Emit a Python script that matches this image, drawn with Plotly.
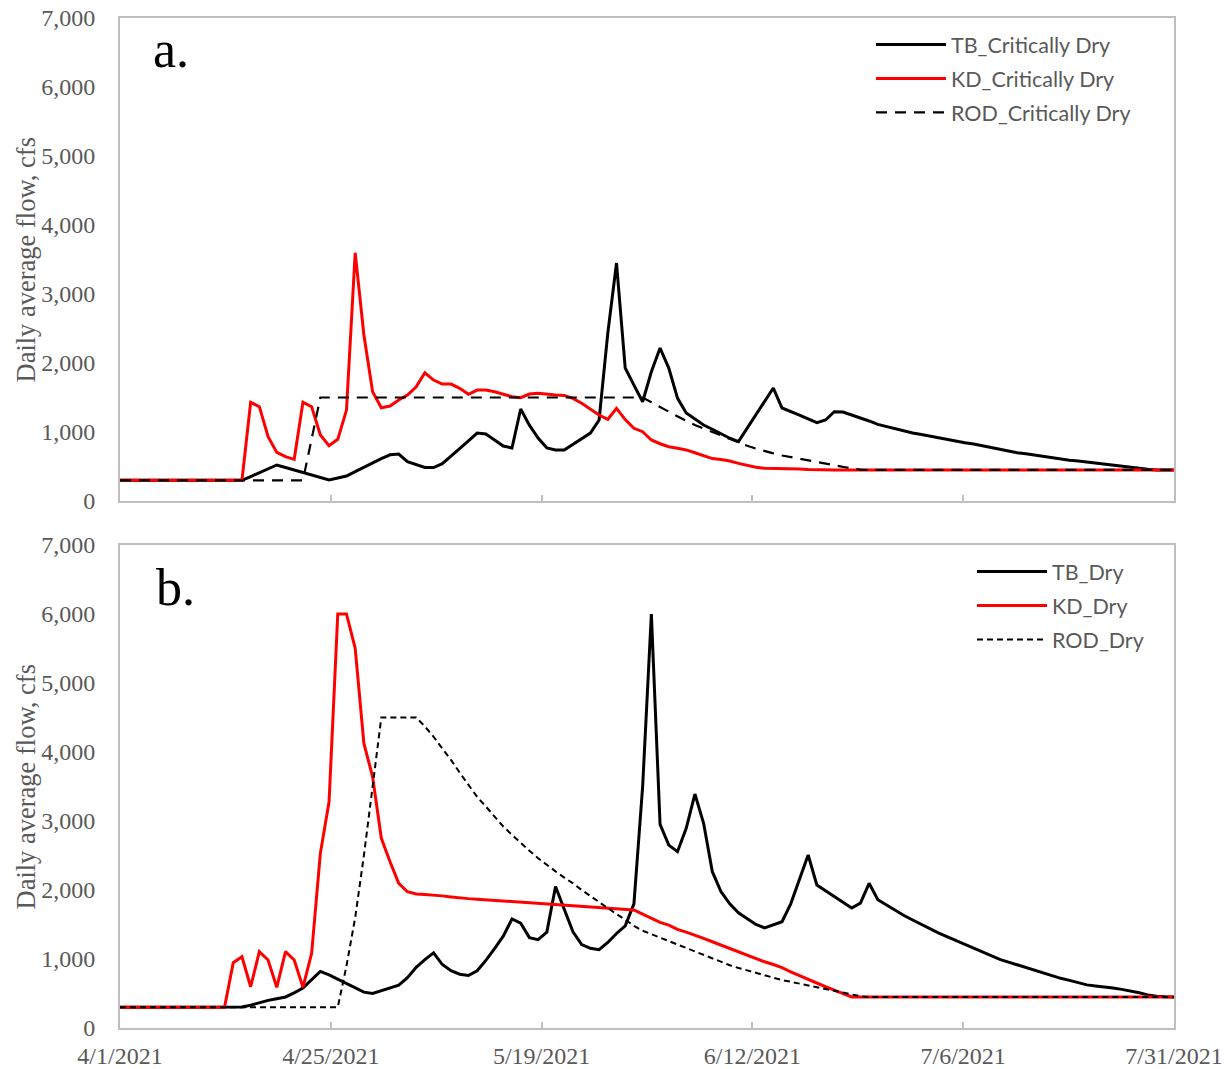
import plotly.graph_objects as go
import numpy as np

# ---------------- data (daily, 4/1/2021 .. 7/31/2021) ----------------
day_index = list(range(122))
tick_labels = ["4/1/2021", "4/25/2021", "5/19/2021", "6/12/2021", "7/6/2021", "7/31/2021"]

tb_critically_dry = [300] * 14 + [
    300, 355, 410, 466, 522, 485, 448, 410, 375, 340,      # 14-23
    304, 333, 362, 426, 490, 555, 615, 670, 681, 570,      # 24-33
    525, 485, 485, 540, 650, 753, 870, 985, 970, 884,      # 34-43
    797, 768, 1333, 1100, 913, 768, 740, 739, 820, 900,    # 44-53
    985, 1174, 2434, 3449, 1927, 1680, 1439, 1873, 2217, 1927,  # 54-63
    1492, 1275, 1190, 1101, 1040, 970, 910, 860, 1050, 1250,    # 64-73
    1440, 1637, 1348, 1300, 1246, 1190, 1135, 1174, 1294, 1290, # 74-83
    1250, 1210, 1160, 1110, 1080, 1050, 1010, 985, 965, 940,    # 84-93
    910, 890, 865, 845, 826, 800, 775, 750, 720, 700,      # 94-103
    685, 665, 645, 625, 605, 590, 580, 565, 545, 525,      # 104-113
    510, 505, 490, 470, 460, 450, 450, 450]                # 114-121

kd_critically_dry = [300] * 15 + [
    1430, 1367, 932, 705, 642, 604, 1430, 1367, 956, 801,  # 15-24
    894, 1318, 3598, 2405, 1584, 1352, 1376, 1463, 1536, 1656,  # 25-34
    1859, 1753, 1695, 1695, 1633, 1546, 1608, 1608, 1584, 1545,  # 35-44
    1511, 1497, 1550, 1560, 1545, 1536, 1530, 1488, 1416, 1330,  # 45-54
    1246, 1184, 1343, 1180, 1053, 1004, 884, 830, 787, 765,      # 55-64
    740, 700, 660, 615, 600, 580, 545, 515, 490, 475,      # 65-74
    473, 473, 473, 465, 455] + [450] * 42                  # 75-121

rod_critically_dry = [300] * 22 + [900] + [1500] * 38 + [
    1430, 1360, 1290, 1220, 1160, 1100, 1050, 1005, 950, 895,  # 61-70
    845, 800, 760, 720, 690, 660, 635, 610, 590, 570,      # 71-80
    545, 520, 495, 475, 455] + [450] * 36                  # 81-121

tb_dry = [300] * 14 + [
    305, 330, 370, 400, 425, 450, 510, 580, 700, 820,      # 14-23
    770, 710, 650, 590, 520, 500, 540, 580, 620, 730,      # 24-33
    880, 990, 1090, 920, 830, 780, 760, 830, 980, 1150,    # 34-43
    1330, 1580, 1520, 1310, 1280, 1390, 2050, 1720, 1395, 1210,  # 44-53
    1155, 1135, 1240, 1370, 1480, 1800, 3500, 6000, 2950, 2650,  # 54-63
    2555, 2894, 3391, 2966, 2265, 1975, 1800, 1670, 1580, 1500,  # 64-73
    1450, 1490, 1540, 1800, 2150, 2507, 2072, 1990, 1900, 1820,  # 74-83
    1740, 1810, 2097, 1860, 1780, 1700, 1630, 1565, 1500, 1435,  # 84-93
    1375, 1320, 1265, 1210, 1150, 1100, 1050, 995, 955, 915,     # 94-103
    870, 830, 790, 753, 720, 690, 655, 625, 610, 600,      # 104-113
    580, 560, 540, 510, 480, 460, 452, 450]                # 114-121

kd_dry = [300] * 13 + [
    946, 1033, 598, 1106, 985, 590, 1106, 985, 590, 1082,  # 13-22
    2531, 3279, 6000, 6000, 5502, 4125, 3641, 2749, 2410, 2097,  # 23-32
    1975, 1942, 1935, 1927, 1915, 1900, 1885, 1875, 1866, 1857,  # 33-42
    1848, 1840, 1830, 1820, 1810, 1800, 1792, 1785, 1775, 1768,  # 43-52
    1760, 1750, 1740, 1734, 1728, 1720, 1710, 1650, 1590, 1530,  # 53-62
    1490, 1430, 1390, 1348, 1300, 1250, 1200, 1150, 1100, 1050,  # 63-72
    1000, 960, 920, 875, 815, 760, 700, 650, 598, 550,     # 73-82
    500] + [450] * 38                                      # 83-121

rod_dry = [300] * 26 + [
    900, 1600, 2500, 3500, 4500, 4500, 4500, 4500, 4500, 4370,  # 26-35
    4221, 4050, 3885, 3700, 3520, 3350, 3210, 3060, 2920, 2800,  # 36-45
    2680, 2570, 2460, 2360, 2270, 2180, 2097, 2000, 1910, 1820,  # 46-55
    1734, 1650, 1570, 1480, 1410, 1360, 1300, 1250, 1200, 1150,  # 56-65
    1100, 1050, 1000, 955, 910, 870, 835, 800, 760, 720,   # 66-75
    695, 670, 645, 620, 595, 570, 545, 520, 495, 460] + [450] * 36  # 76-121

for s in (tb_critically_dry, kd_critically_dry, rod_critically_dry, tb_dry, kd_dry, rod_dry):
    assert len(s) == len(day_index), len(s)

# ---------------- figure ----------------
# The page's default 8px body margin is removed by a post script, so the
# figure fills the 1229x1069 window; positions below are screen pixels.
W, H = 1229, 1069
PL, PR, PT, PB = 120, 1174, 18, 1028        # screen px of the plot block
ML, MT = PL, PT
MR, MB = W - PR, H - PB
GRAY = "#595959"
BORDER = "#BFBFBF"
SERIF = "Liberation Serif, Times New Roman, serif"
SANS = "Lato, Liberation Sans, sans-serif"

plot_w = W - ML - MR
plot_h = H - MT - MB
panel_h = 483 / plot_h


def px_x(sx):
    return (sx - PL) / plot_w


def px_y(sy):
    return 1 - (sy - PT) / plot_h


fig = go.Figure()


def add(y, name, color, width, dash, xa, ya, legend):
    fig.add_trace(go.Scatter(
        x=day_index, y=y, name=name, mode="lines",
        line=dict(color=color, width=width, dash=dash),
        xaxis=xa, yaxis=ya, legend=legend, legendgroup=name,
    ))


add(tb_critically_dry, "TB_Critically Dry", "black", 3, "solid", "x", "y", "legend")
add(kd_critically_dry, "KD_Critically Dry", "#FF0000", 3, "solid", "x", "y", "legend")
add(rod_critically_dry, "ROD_Critically Dry", "black", 2.2, "11px,8px", "x", "y", "legend")
add(tb_dry, "TB_Dry", "black", 3, "solid", "x2", "y2", "legend2")
add(kd_dry, "KD_Dry", "#FF0000", 3, "solid", "x2", "y2", "legend2")
add(rod_dry, "ROD_Dry", "black", 2, "6px,4px", "x2", "y2", "legend2")

tickpos = list(np.linspace(0, 121, 6))

xcommon = dict(
    range=[0, 121], showline=True, mirror=True, linecolor=BORDER, linewidth=2,
    showgrid=False, zeroline=False, ticks="inside", ticklen=6, tickwidth=2,
    tickcolor=BORDER, tickvals=tickpos, ticktext=tick_labels, automargin=False,
    ticklabeloverflow="allow",
    tickfont=dict(family=SERIF, size=24, color=GRAY),
)
ycommon = dict(
    range=[0, 7000], dtick=1000, tickformat=",", showline=True, mirror=True,
    linecolor=BORDER, linewidth=2, showgrid=False, zeroline=False, ticks="",
    automargin=False, ticklabeloverflow="allow",
    tickfont=dict(family=SERIF, size=24, color=GRAY), ticklabelstandoff=18,
)

legcommon = dict(
    bgcolor="rgba(0,0,0,0)", font=dict(family=SANS, size=21.5, color=GRAY),
    itemwidth=70, tracegroupgap=3, xanchor="left", yanchor="top",
    itemclick=False, itemdoubleclick=False,
)

fig.update_layout(
    template="none",
    width=W, height=H, margin=dict(l=ML, r=MR, t=MT, b=MB, autoexpand=False),
    paper_bgcolor="white", plot_bgcolor="white", showlegend=True,
    xaxis=dict(**xcommon, anchor="y", showticklabels=False, domain=[0, 1]),
    yaxis=dict(**ycommon, anchor="x", domain=[1 - panel_h, 1]),
    xaxis2=dict(**xcommon, anchor="y2", showticklabels=True, ticklabelstandoff=5, domain=[0, 1]),
    yaxis2=dict(**ycommon, anchor="x2", domain=[0, panel_h]),
    legend=dict(**legcommon, x=px_x(871), y=px_y(24)),
    legend2=dict(**legcommon, x=px_x(972), y=px_y(551)),
)

annos = [
    dict(text="a.", x=px_x(151), y=px_y(49), xanchor="left", yanchor="middle",
         font=dict(family=SERIF, size=52, color="black")),
    dict(text="b.", x=px_x(154), y=px_y(587), xanchor="left", yanchor="middle",
         font=dict(family=SERIF, size=52, color="black")),
    dict(text="Daily average flow, cfs", x=px_x(25), y=px_y(259.5), textangle=-90,
         xanchor="center", yanchor="middle", font=dict(family=SERIF, size=26.5, color=GRAY)),
    dict(text="Daily average flow, cfs", x=px_x(25), y=px_y(786.5), textangle=-90,
         xanchor="center", yanchor="middle", font=dict(family=SERIF, size=26.5, color=GRAY)),
]
for a in annos:
    a.update(xref="paper", yref="paper", showarrow=False)
fig.update_layout(annotations=annos)

fig.write_html(
    "out.html",
    config={"displayModeBar": False, "staticPlot": True},
    post_script="document.body.style.margin='0px'; document.body.style.overflow='hidden';",
)
